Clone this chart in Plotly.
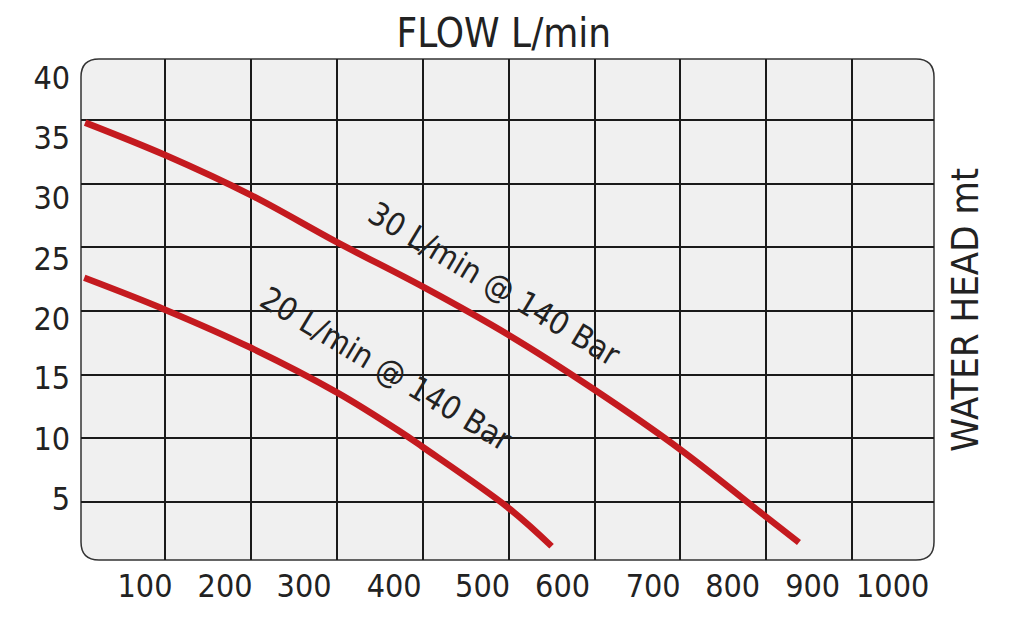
import plotly.graph_objects as go

# pump curves (grid lines at 100..900 L/min and 5..35 m)
flow_30 = [7, 100, 200, 300, 400, 500, 600, 700, 800, 838]
head_30 = [34.8, 32.25, 29.1, 25.4, 21.9, 18.1, 13.8, 9.1, 3.8, 1.8]

flow_20 = [6, 100, 200, 300, 374, 400, 500, 550]
head_20 = [22.6, 20.1, 17.1, 13.6, 10.5, 9.3, 4.5, 1.5]

grid_x = [100, 200, 300, 400, 500, 600, 700, 800, 900]
grid_y = [5, 10, 15, 20, 25, 30, 35]

x_labels = ["100", "200", "300", "400", "500", "600", "700", "800", "900", "1000"]
y_labels = ["40", "35", "30", "25", "20", "15", "10", "5"]

# where the printed labels sit (they do not line up with the grid on the original)
X_LABEL_POS = [76.7, 169.9, 261.9, 366.7, 469.7, 562.8, 668.2, 760.8, 853.9, 947.1]
Y_LABEL_POS = [38.35, 33.63, 28.92, 24.08, 19.36, 14.77, 9.93, 5.21]

X_RANGE = [2.2, 995.2]
Y_RANGE = [0.42, 39.8]

FONT = "Liberation Sans Narrow, DejaVu Sans Condensed, sans-serif"
INK = "#222222"
RED = "#c41a1f"

fig = go.Figure()
fig.add_trace(go.Scatter(x=flow_30, y=head_30, mode="lines", line=dict(color=RED, width=6.5, shape="spline"),
                         hoverinfo="skip", showlegend=False))
# second curve sits on the overlaid label axes (same ranges) so those axes get drawn
fig.add_trace(go.Scatter(x=flow_20, y=head_20, mode="lines", line=dict(color=RED, width=6.5, shape="spline"),
                         xaxis="x2", yaxis="y2", hoverinfo="skip", showlegend=False))

# rounded plot frame (paper coords == plot area)
rx, ry = 18 / 853, 18 / 501
path = (f"M {rx},0 L {1-rx},0 Q 1,0 1,{ry} L 1,{1-ry} Q 1,1 {1-rx},1 "
        f"L {rx},1 Q 0,1 0,{1-ry} L 0,{ry} Q 0,0 {rx},0 Z")
fig.add_shape(type="path", path=path, xref="paper", yref="paper", layer="below",
              fillcolor="#f0f0f0", line=dict(color="#333333", width=1.5))

fig.add_annotation(text="30 L/min @ 140 Bar", x=483, y=22.12, showarrow=False, textangle=31,
                   font=dict(family=FONT, size=32, color=INK))
fig.add_annotation(text="20 L/min @ 140 Bar", x=357.5, y=15.45, showarrow=False, textangle=31,
                   font=dict(family=FONT, size=32, color=INK))
fig.add_annotation(text="WATER HEAD mt", xref="paper", yref="paper", x=1.036, y=0.499,
                   xanchor="center", yanchor="middle",
                   showarrow=False, textangle=-90, font=dict(family=FONT, size=38, color=INK))

grid_style = dict(showgrid=True, gridcolor="#1a1a1a", gridwidth=2, zeroline=False,
                  showline=False, showticklabels=False, ticks="")
label_style = dict(showgrid=False, zeroline=False, showline=False, ticks="",
                   tickfont=dict(family=FONT, size=32, color=INK))

fig.update_layout(
    width=1024, height=626,
    margin=dict(l=81, r=90, t=59, b=66),
    paper_bgcolor="white", plot_bgcolor="rgba(0,0,0,0)",
    title=dict(text="FLOW L/min", xref="container", yref="container", x=0.492, y=0.947,
               xanchor="center", yanchor="middle", font=dict(family=FONT, size=40, color=INK)),
    xaxis=dict(range=X_RANGE, tickvals=grid_x, **grid_style),
    yaxis=dict(range=Y_RANGE, tickvals=grid_y, **grid_style),
    xaxis2=dict(overlaying="x", anchor="y", side="bottom", range=X_RANGE,
                tickvals=X_LABEL_POS, ticktext=x_labels, ticklabelstandoff=4, **label_style),
    yaxis2=dict(overlaying="y", anchor="x", side="left", range=Y_RANGE,
                tickvals=Y_LABEL_POS, ticktext=y_labels, ticklabelstandoff=10, **label_style),
)

fig.write_html("out.html", config={"displayModeBar": False},
               post_script="document.body.style.margin = '0';")
